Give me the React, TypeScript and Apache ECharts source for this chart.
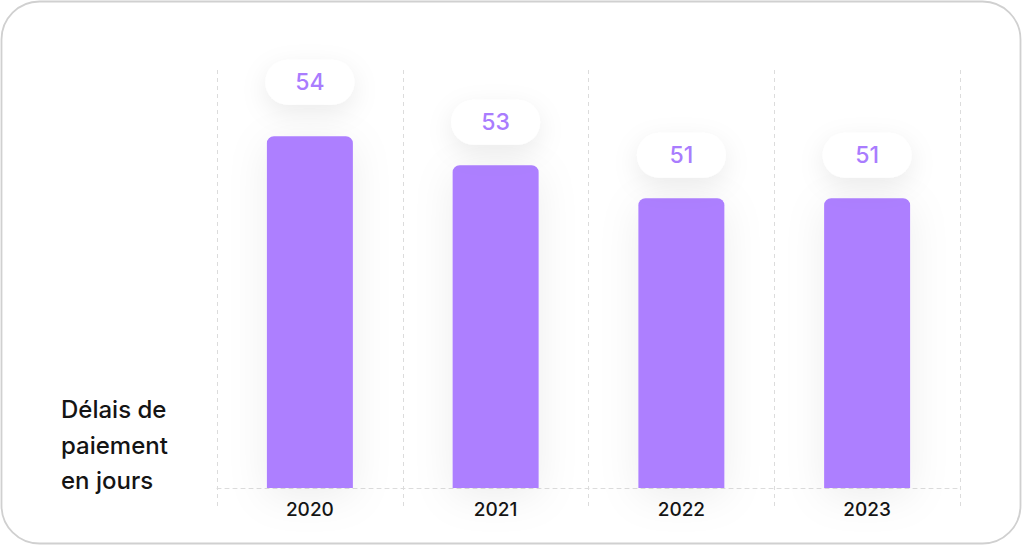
import React, { useEffect, useRef } from "react";
import * as echarts from "echarts";

const categories = ["2020", "2021", "2022", "2023"];
const values = [54, 52.6, 51, 51];
const labelDistances = [54, 43, 43, 43];
const axisTitle = "Délais de\npaiement\nen jours";

export default function App() {
  const ref = useRef<HTMLDivElement>(null);
  useEffect(() => {
    if (!ref.current) return;
    const chart = echarts.init(ref.current, null, { renderer: "svg" });
    const font = "Inter, 'Noto Sans', sans-serif";
    chart.setOption({
      animation: false,
      backgroundColor: "#ffffff",
      textStyle: { fontFamily: font },
      grid: [
        { left: 217, right: 64, top: 70, bottom: 70 },
        { left: 217, right: 64, top: 70, bottom: 48 },
      ],
      xAxis: [
        {
          type: "category",
          gridIndex: 0,
          data: categories,
          axisLine: { show: true, lineStyle: { color: "#dcdcdc", type: [4, 4], width: 1 } },
          axisTick: { show: false },
          splitLine: { show: false },
          axisLabel: {
            color: "#141414",
            fontSize: 19,
            fontWeight: 500,
            fontFamily: font,
            margin: 12,
          },
        },
        {
          type: "category",
          gridIndex: 1,
          data: categories,
          axisLine: { show: false },
          axisTick: { show: false },
          axisLabel: { show: false },
          splitLine: { show: true, lineStyle: { color: "#dcdcdc", type: [4, 4], width: 1 } },
        },
      ],
      yAxis: [
        { type: "value", gridIndex: 0, min: 37, max: 57.2, show: false, splitLine: { show: false } },
        { type: "value", gridIndex: 1, show: false, splitLine: { show: false } },
      ],
      series: [
        {
          type: "bar",
          xAxisIndex: 0,
          yAxisIndex: 0,
          barWidth: 86,
          data: values.map((v, i) => ({ value: v, label: { distance: labelDistances[i] } })),
          itemStyle: {
            color: "#ad7fff",
            borderRadius: [7, 7, 0, 0],
            shadowBlur: 40,
            shadowColor: "rgba(0,0,0,0.07)",
            shadowOffsetY: 8,
          },
          label: {
            show: true,
            position: "top",
            formatter: (p: any) => String(Math.round(p.value)),
            color: "#a97cfe",
            fontSize: 23,
            fontWeight: 500,
            fontFamily: font,
            backgroundColor: "#ffffff",
            borderRadius: 23,
            width: 89,
            height: 45,
            lineHeight: 45,
            align: "center",
            verticalAlign: "middle",
            shadowBlur: 26,
            shadowColor: "rgba(0,0,0,0.08)",
            shadowOffsetY: 8,
          },
        },
      ],
      graphic: [
        {
          type: "rect",
          shape: { x: 1.5, y: 1.5, width: 1019, height: 542, r: 38 },
          style: { fill: "none", stroke: "#d0d0d0", lineWidth: 1.8 },
          silent: true,
        },
        {
          type: "text",
          x: 61,
          y: 392,
          style: {
            text: axisTitle,
            fontSize: 24,
            fontWeight: 500,
            fontFamily: font,
            lineHeight: 35.5,
            fill: "#141414",
            verticalAlign: "top",
          },
        },
      ],
    });
    return () => chart.dispose();
  }, []);
  return (
    <div
      ref={ref}
      style={{ position: "absolute", left: 0, top: 0, width: 1024, height: 558 }}
    />
  );
}
